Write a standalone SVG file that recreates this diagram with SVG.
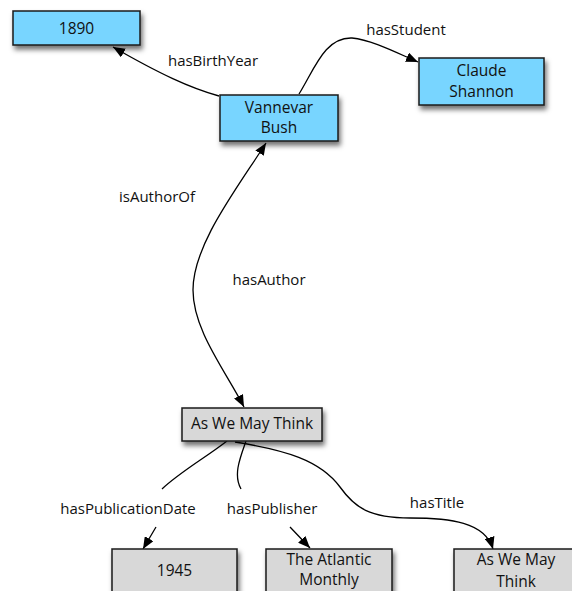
<svg xmlns="http://www.w3.org/2000/svg" width="572" height="591" viewBox="0 0 572 591">
<defs>
<style>
.blue{fill:#78d5ff;stroke:#1a1a1a;stroke-width:1.5}
.gray{fill:#d8d8d8;stroke:#1a1a1a;stroke-width:1.5}
text{font-family:"Open Sans","Liberation Sans",sans-serif;font-size:15px;fill:#111}
.n{font-size:15.5px}
.c{text-anchor:middle}
.edge{fill:none;stroke:#000;stroke-width:1.3}
</style>
<filter id="sh" x="-20%" y="-30%" width="150%" height="180%">
<feDropShadow dx="2" dy="4" stdDeviation="2.5" flood-color="#000" flood-opacity="0.55"/>
</filter>
<marker id="arr" viewBox="0 0 12 10" refX="12" refY="5" markerWidth="12" markerHeight="10" markerUnits="userSpaceOnUse" orient="auto-start-reverse">
<path d="M0,0 L12,5 L0,10 Z" fill="#000"/>
</marker>
</defs>
<rect width="572" height="591" fill="#fff"/>
<g id="connectors">
<path id="e-hasBirthYear" class="edge" d="M219,96 C190,88 160,74 113,47" marker-end="url(#arr)"/>
<path id="e-hasStudent" class="edge" d="M299,94 C315,68 325,37 352,38 C372,40 395,52 418,62" marker-end="url(#arr)"/>
<path id="e-author" class="edge" d="M266,143 C236,190 193,245 193,290 C193,330 225,370 244,407" marker-start="url(#arr)" marker-end="url(#arr)"/>
<path id="e-hasPublicationDate" class="edge" d="M227,441 C205,458 180,472 162,489 M156,527 L143,549" marker-end="url(#arr)"/>
<path id="e-hasPublisher" class="edge" d="M246,441 C240,458 233,475 241,489 M290,527 L310,548" marker-end="url(#arr)"/>
<path id="e-hasTitle" class="edge" d="M235,442 C285,450 320,460 340,487 C355,508 370,518 410,518 C450,518 485,522 493,549" marker-end="url(#arr)"/>
<text x="213" y="66" class="c">hasBirthYear</text>
<text x="406" y="35" class="c">hasStudent</text>
<text x="157" y="202" class="c">isAuthorOf</text>
<text x="269" y="285" class="c">hasAuthor</text>
<text x="128" y="514" class="c">hasPublicationDate</text>
<text x="272" y="514" class="c">hasPublisher</text>
<text x="437" y="508" class="c">hasTitle</text>
</g>
<g id="n1890">
<rect class="blue" x="13" y="11" width="127" height="34" filter="url(#sh)"/>
<text x="76.5" y="34" class="c n">1890</text>
</g>
<g id="nBush">
<rect class="blue" x="220" y="95" width="118" height="46" filter="url(#sh)"/>
<text x="279" y="113" class="c n">Vannevar</text>
<text x="279" y="133" class="c n">Bush</text>
</g>
<g id="nShannon">
<rect class="blue" x="419" y="58" width="125" height="47" filter="url(#sh)"/>
<text x="481.5" y="76" class="c n">Claude</text>
<text x="481.5" y="97" class="c n">Shannon</text>
</g>
<g id="nDoc">
<rect class="gray" x="182" y="408" width="140" height="33" filter="url(#sh)"/>
<text x="252" y="429" class="c n">As We May Think</text>
</g>
<g id="n1945">
<rect class="gray" x="112" y="549" width="125" height="50" filter="url(#sh)"/>
<text x="174.5" y="576" class="c n">1945</text>
</g>
<g id="nAtlantic">
<rect class="gray" x="266" y="549" width="126" height="50" filter="url(#sh)"/>
<text x="329" y="565" class="c n">The Atlantic</text>
<text x="329" y="585" class="c n">Monthly</text>
</g>
<g id="nTitle">
<rect class="gray" x="454" y="549" width="125" height="50" filter="url(#sh)"/>
<text x="516" y="565" class="c n">As We May</text>
<text x="516" y="587" class="c n">Think</text>
</g>
</svg>
